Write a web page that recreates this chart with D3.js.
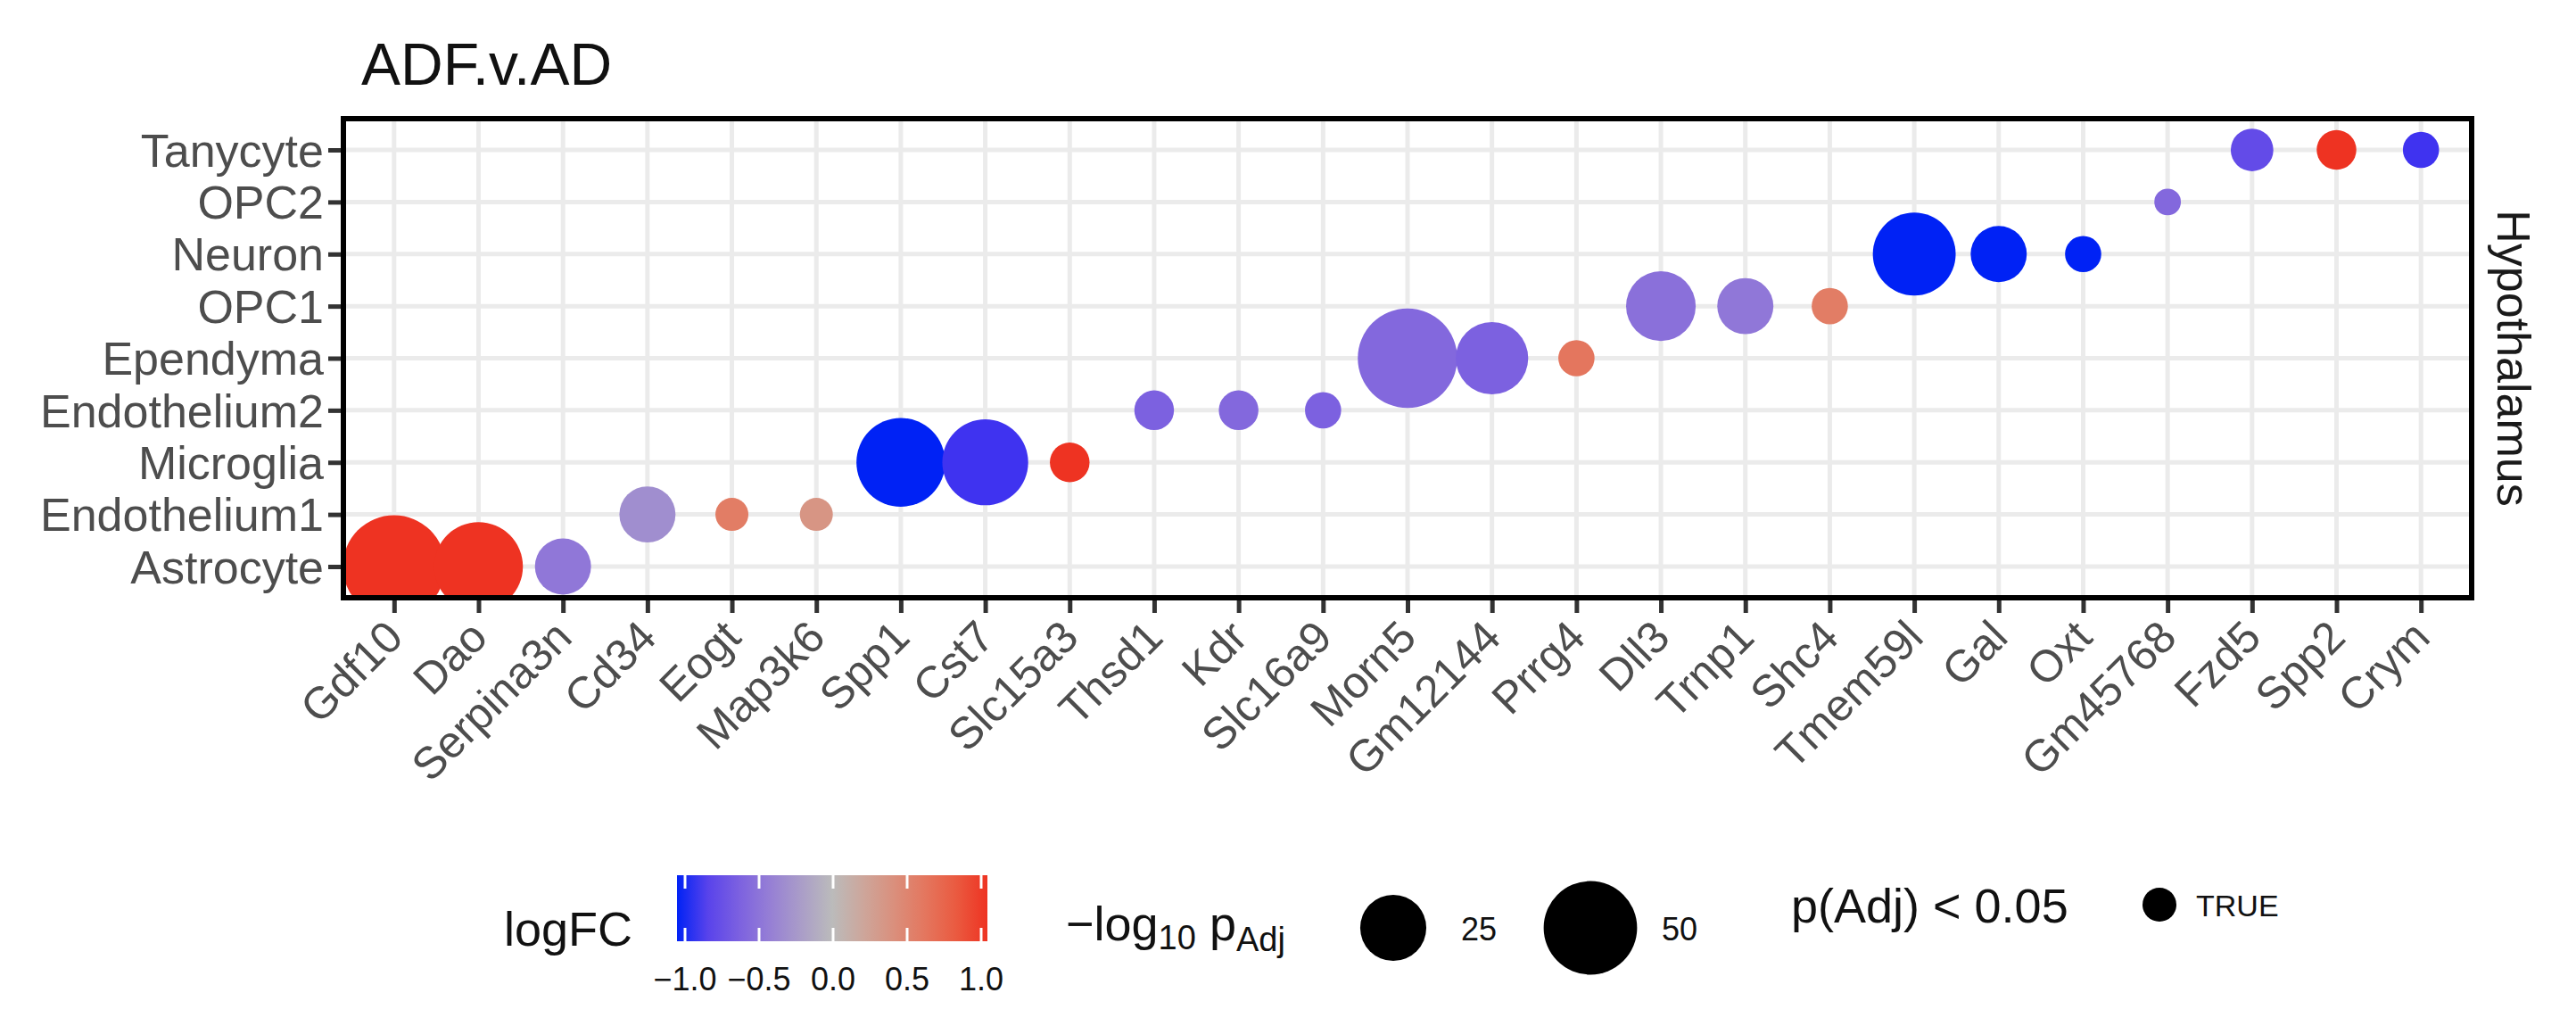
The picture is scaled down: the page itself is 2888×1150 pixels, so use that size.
<!DOCTYPE html>
<html><head><meta charset="utf-8">
<script src="https://cdn.jsdelivr.net/npm/d3@7"></script>
<style>body{margin:0;background:#fff}text{font-family:"Liberation Sans Narrow","Liberation Sans",sans-serif}</style>
</head><body><svg id="c" width="2888" height="1150"></svg>
<script>
var genes = ["Gdf10","Dao","Serpina3n","Cd34","Eogt","Map3k6","Spp1","Cst7","Slc15a3","Thsd1","Kdr","Slc16a9","Morn5","Gm12144","Prrg4","Dll3","Trnp1","Shc4","Tmem59l","Gal","Oxt","Gm45768","Fzd5","Spp2","Crym"];
var cellTypes = ["Astrocyte","Endothelium1","Microglia","Endothelium2","Ependyma","OPC1","Neuron","OPC2","Tanycyte"];
var geneCell = ["Astrocyte","Astrocyte","Astrocyte","Endothelium1","Endothelium1","Endothelium1","Microglia","Microglia","Microglia","Endothelium2","Endothelium2","Endothelium2","Ependyma","Ependyma","Ependyma","OPC1","OPC1","OPC1","Neuron","Neuron","Neuron","OPC2","Tanycyte","Tanycyte","Tanycyte"];
var logFC = [1,1,-0.45,-0.3,0.55,0.35,-1,-0.9,1,-0.6,-0.55,-0.6,-0.55,-0.6,0.6,-0.5,-0.45,0.55,-1,-1,-1,-0.55,-0.75,1,-0.9];
var negLogP = [52,39,15.6,15.6,5.4,5.4,39,36.5,7.8,7.8,7.8,6.5,49,26,6.5,24,15.6,6.5,34,15.6,6.5,3.5,9,7.8,6.5];
var colorTicks = [-1,-0.5,0,0.5,1];
var sizeBreaks = [25,50];

var svg = d3.select("#c");
var L = 385, R = 2771, T = 133, B = 670;

var x = d3.scalePoint().domain(genes).range([L, R]).padding(0.6);
var y = d3.scalePoint().domain(cellTypes).range([B, T]).padding(0.6);
var r = d3.scaleSqrt().domain([0, 60]).range([0, 61.7]);
var col = d3.scaleLinear().domain([-1, 0, 1]).range(["#0022f5", "#bbbbbb", "#ee3322"]).interpolate(d3.interpolateLab).clamp(true);

svg.append("text").attr("x", 405).attr("y", 95).attr("font-size", 66).attr("fill", "#111").text("ADF.v.AD");

// grid
var g = svg.append("g");
g.selectAll(".gx").data(genes).enter().append("line")
  .attr("x1", d => x(d)).attr("x2", d => x(d)).attr("y1", T).attr("y2", B)
  .attr("stroke", "#ebebeb").attr("stroke-width", 5);
g.selectAll(".gy").data(cellTypes).enter().append("line")
  .attr("y1", d => y(d)).attr("y2", d => y(d)).attr("x1", L).attr("x2", R)
  .attr("stroke", "#ebebeb").attr("stroke-width", 5);

svg.append("clipPath").attr("id", "clip").append("rect")
  .attr("x", L).attr("y", T).attr("width", R - L).attr("height", B - T);

svg.append("g").attr("clip-path", "url(#clip)").selectAll("circle").data(genes).enter().append("circle")
  .attr("cx", d => x(d)).attr("cy", (d, i) => y(geneCell[i]))
  .attr("r", (d, i) => r(negLogP[i])).attr("fill", (d, i) => col(logFC[i]));

svg.append("rect").attr("x", L).attr("y", T).attr("width", R - L).attr("height", B - T)
  .attr("fill", "none").attr("stroke", "#000").attr("stroke-width", 6);

// axes
var xa = svg.append("g").attr("transform", "translate(0," + (B + 3) + ")")
  .call(d3.axisBottom(x).tickSize(14).tickSizeOuter(0));
xa.select(".domain").remove();
xa.selectAll("line").attr("stroke", "#333").attr("stroke-width", 5);
xa.selectAll("text").attr("font-size", 50).attr("fill", "#4d4d4d")
  .attr("text-anchor", "end").attr("dy", 0).attr("y", 0)
  .attr("transform", "translate(12,44) rotate(-45)");

var ya = svg.append("g").attr("transform", "translate(" + (L - 3) + ",0)")
  .call(d3.axisLeft(y).tickSize(14).tickSizeOuter(0));
ya.select(".domain").remove();
ya.selectAll("line").attr("stroke", "#333").attr("stroke-width", 5);
ya.selectAll("text").attr("font-size", 52).attr("fill", "#4d4d4d").attr("x", -19).attr("dy", "0.35em");

svg.append("text").attr("transform", "translate(2800," + ((T + B) / 2) + ") rotate(90)")
  .attr("text-anchor", "middle").attr("font-size", 52).attr("fill", "#1a1a1a").text("Hypothalamus");

// legends
var ly = 1040;
svg.append("text").attr("x", 565).attr("y", ly + 20).attr("font-size", 54).attr("fill", "#111").text("logFC");
var grad = svg.append("defs").append("linearGradient").attr("id", "gr");
d3.range(0, 1.01, 0.1).forEach(function(t) {
  grad.append("stop").attr("offset", t).attr("stop-color", col(t * 2 - 1));
});
var cx = d3.scaleLinear().domain([-1, 1]).range([768, 1100]);
svg.append("rect").attr("x", 759).attr("y", 981).attr("width", 348).attr("height", 74).attr("fill", "url(#gr)");
svg.selectAll(".ct").data(colorTicks).enter().append("g").each(function(d) {
  var s = d3.select(this);
  s.append("line").attr("x1", cx(d)).attr("x2", cx(d)).attr("y1", 981).attr("y2", 996).attr("stroke", "#fff").attr("stroke-width", 3);
  s.append("line").attr("x1", cx(d)).attr("x2", cx(d)).attr("y1", 1040).attr("y2", 1055).attr("stroke", "#fff").attr("stroke-width", 3);
  s.append("text").attr("x", cx(d)).attr("y", 1110).attr("text-anchor", "middle").attr("font-size", 36).attr("fill", "#111")
    .text(d3.format(".1f")(d).replace("-", "\u2212"));
});

var st = svg.append("text").attr("x", 1195).attr("y", ly + 14).attr("font-size", 54).attr("fill", "#111");
st.append("tspan").text("\u2212log");
st.append("tspan").attr("font-size", 38).attr("dy", 10).text("10");
st.append("tspan").attr("dy", -10).text(" p");
st.append("tspan").attr("font-size", 38).attr("dy", 12).text("Adj");
var sx = [1562, 1783];
sizeBreaks.forEach(function(b, i) {
  svg.append("circle").attr("cx", sx[i]).attr("cy", ly).attr("r", r(b) * 0.93).attr("fill", "#000");
  svg.append("text").attr("x", sx[i] + (i ? 80 : 76)).attr("y", ly + 14).attr("font-size", 36).attr("fill", "#111").text(b);
});

svg.append("text").attr("x", 2008).attr("y", 1034).attr("font-size", 54).attr("fill", "#111").text("p(Adj) < 0.05");
svg.append("circle").attr("cx", 2421).attr("cy", 1014).attr("r", 19).attr("fill", "#000");
svg.append("text").attr("x", 2462).attr("y", 1027).attr("font-size", 34).attr("fill", "#111").text("TRUE");
</script></body></html>
